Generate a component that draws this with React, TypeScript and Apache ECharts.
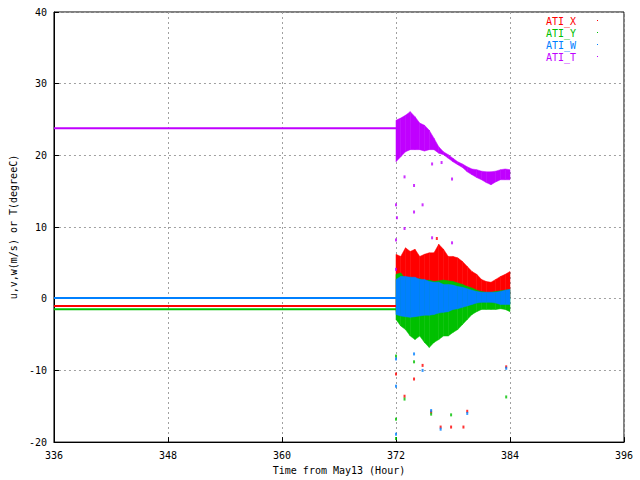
import React, { useEffect, useRef } from 'react';
import * as echarts from 'echarts';

// 时间轴 (hour from May13)
const bandTimes = [
  372.0, 372.5, 373.0, 373.5, 374.0, 374.5, 375.0, 375.5, 376.0, 376.5, 377.0, 377.5, 378.0,
  378.5, 379.0, 379.5, 380.0, 380.5, 381.0, 381.5, 382.0, 382.5, 383.0, 383.5, 384.0,
];

// ATI_X 上下包络
const xHigh = [6.2, 5.9, 7.1, 6.6, 6.9, 5.9, 6.2, 6.4, 6.4, 7.6, 6.9, 5.9, 5.9, 5.7, 5.2, 4.5, 3.8, 3.4, 2.7, 2.4, 2.3, 2.7, 3.1, 3.4, 3.8];
const xLow = [-1.8, -2.0, -2.2, -2.2, -2.0, -2.0, -1.8, -1.8, -1.6, -1.5, -1.2, -1.0, -0.8, -0.6, -0.4, -0.2, 0.0, 0.2, 0.3, 0.4, 0.4, 0.3, 0.2, 0.2, 0.1];
// ATI_Y
const yHigh = [3.4, 3.6, 2.8, 3.0, 2.6, 2.8, 2.5, 2.6, 2.4, 2.5, 2.6, 2.5, 2.4, 2.2, 2.0, 1.7, 1.5, 1.2, 1.0, 0.9, 0.9, 1.0, 1.1, 1.2, 1.3];
const yLow = [-2.9, -3.8, -4.3, -5.2, -5.7, -5.2, -6.1, -6.8, -6.1, -5.7, -5.2, -5.2, -4.7, -4.3, -3.6, -2.9, -2.2, -1.8, -1.5, -1.5, -1.5, -1.5, -1.4, -1.5, -1.8];
// ATI_W
const wHigh = [2.7, 3.1, 3.1, 3.0, 3.0, 2.7, 2.7, 2.4, 2.3, 2.3, 2.0, 2.0, 1.9, 1.7, 1.6, 1.4, 1.2, 1.0, 0.9, 0.9, 0.9, 0.9, 1.0, 1.2, 1.3];
const wLow = [-2.2, -2.4, -2.5, -2.6, -2.5, -2.4, -2.3, -2.3, -2.2, -2.0, -1.9, -1.8, -1.5, -1.4, -1.2, -1.0, -0.8, -0.6, -0.5, -0.5, -0.5, -0.6, -0.8, -0.8, -0.8];
// ATI_T
const tHigh = [24.9, 25.2, 25.6, 26.1, 25.4, 24.5, 24.2, 23.5, 22.4, 21.2, 20.5, 20.1, 19.6, 19.1, 18.8, 18.4, 18.1, 18.0, 17.8, 17.7, 17.7, 17.8, 18.0, 18.1, 18.0];
const tLow = [19.1, 19.8, 20.5, 20.8, 20.8, 20.8, 20.6, 20.8, 20.8, 20.3, 20.1, 19.6, 19.1, 18.7, 18.3, 17.7, 17.3, 16.9, 16.6, 16.2, 15.9, 16.3, 16.6, 16.6, 16.6];

// 372 以前的常值
const flatTimes = [336, 372];
const xFlat = [-1.0, -1.0];
const yFlat = [-1.45, -1.45];
const wFlat = [0.1, 0.1];
const tFlat = [23.8, 23.8];

// 离群点 [time, value]
const xOutliers = [[372.0, -10.5], [372.9, -13.6], [373.9, -11.2], [374.8, -9.3], [375.7, -15.8], [376.7, -17.9], [377.8, -17.9], [379.1, -17.9], [379.5, -15.7], [383.6, -9.5], [376.3, 8.4]];
const yOutliers = [[372.0, -8.0], [372.0, -16.8], [372.9, -14.0], [373.9, -8.8], [375.7, -16.1], [377.8, -16.2], [383.6, -13.7], [372.0, -19.5]];
const wOutliers = [[372.0, -8.4], [372.0, -12.2], [373.9, -7.7], [374.8, -10.0], [375.7, -15.6], [376.7, -18.2], [379.5, -16.0], [383.6, -9.7], [372.0, -18.9]];
const tOutliers = [[372.9, 17.0], [373.9, 15.8], [374.8, 13.1], [373.9, 12.1], [372.0, 13.1], [372.1, 11.3], [372.9, 9.8], [372.0, 8.2], [375.8, 18.8], [376.8, 19.0], [377.9, 16.7], [375.8, 8.5], [377.9, 7.8], [372.0, 4.1]];

const yTicks = [-20, -10, 0, 10, 20, 30, 40];
const xTicks = [336, 348, 360, 372, 384, 396];

const seriesDefs = [
  { name: 'ATI_X', color: '#ff0000', high: xHigh, low: xLow, flat: xFlat, out: xOutliers },
  { name: 'ATI_Y', color: '#00c000', high: yHigh, low: yLow, flat: yFlat, out: yOutliers },
  { name: 'ATI_W', color: '#0080ff', high: wHigh, low: wLow, flat: wFlat, out: wOutliers },
  { name: 'ATI_T', color: '#c000ff', high: tHigh, low: tLow, flat: tFlat, out: tOutliers },
];

const FONT = 'DejaVu Sans Mono';

const App: React.FC = () => {
  const chartRef = useRef<HTMLDivElement>(null);

  useEffect(() => {
    document.body.style.margin = '0';
    if (!chartRef.current) return;
    const chart = echarts.init(chartRef.current, null, { renderer: 'svg' });

    const series: any[] = [];
    seriesDefs.forEach((s) => {
      // 常值段
      series.push({
        name: s.name,
        type: 'line',
        data: flatTimes.map((t, i) => [t, s.flat[i]]),
        showSymbol: false,
        lineStyle: { color: s.color, width: 2 },
        itemStyle: { color: s.color },
        z: 2,
      });
      // 包络带
      const data = bandTimes.map((t, i) => [t, s.low[i], s.high[i]]);
      series.push({
        name: s.name,
        type: 'custom',
        data,
        encode: { x: 0, y: [1, 2] },
        itemStyle: { color: s.color },
        renderItem: (params: any, api: any) => {
          const i = params.dataIndex;
          if (i >= data.length - 1) return null;
          const a = data[i];
          const b = data[i + 1];
          const p1 = api.coord([a[0], a[2]]);
          const p2 = api.coord([b[0], b[2]]);
          const p3 = api.coord([b[0], b[1]]);
          const p4 = api.coord([a[0], a[1]]);
          return {
            type: 'polygon',
            shape: { points: [p1, p2, p3, p4] },
            style: { fill: s.color, stroke: s.color, lineWidth: 0.5 },
          };
        },
        z: 2,
      });
      // 离群点
      series.push({
        name: s.name,
        type: 'scatter',
        data: s.out,
        symbol: 'rect',
        symbolSize: [2, 3],
        itemStyle: { color: s.color },
        z: 2,
      });
    });

    const graphic: any[] = [];
    seriesDefs.forEach((s, i) => {
      graphic.push({
        type: 'text',
        right: 640 - 576,
        top: 16 + i * 12,
        style: { text: s.name, fill: s.color, font: `10px "${FONT}"`, textAlign: 'right' },
      });
      graphic.push({
        type: 'rect',
        left: 597,
        top: 20 + i * 12,
        shape: { width: 1, height: 1 },
        style: { fill: s.color },
      });
    });

    chart.setOption({
      animation: false,
      backgroundColor: '#ffffff',
      textStyle: { fontFamily: FONT },
      grid: {
        left: 48,
        top: 12,
        width: 576,
        height: 431,
        show: true,
        borderColor: '#000000',
        borderWidth: 1,
        backgroundColor: 'transparent',
      },
      xAxis: {
        type: 'value',
        min: 336,
        max: 396,
        interval: 12,
        name: 'Time from May13 (Hour)',
        nameLocation: 'middle',
        nameGap: 22,
        nameTextStyle: { color: '#000', fontSize: 10, fontFamily: FONT },
        axisLine: { show: true, onZero: false, lineStyle: { color: '#000' } },
        axisTick: { show: true, inside: true, length: 5, lineStyle: { color: '#000' } },
        axisLabel: { color: '#000', fontSize: 10, fontFamily: FONT, margin: 8 },
        splitLine: { show: true, lineStyle: { color: '#a0a0a0', type: [2, 3], width: 1 } },
      },
      yAxis: {
        type: 'value',
        min: yTicks[0],
        max: yTicks[yTicks.length - 1],
        interval: 10,
        name: 'u,v,w(m/s) or T(degreeC)',
        nameLocation: 'middle',
        nameRotate: 90,
        nameGap: 32,
        nameTextStyle: { color: '#000', fontSize: 10, fontFamily: FONT },
        axisLine: { show: true, onZero: false, lineStyle: { color: '#000' } },
        axisTick: { show: true, inside: true, length: 5, lineStyle: { color: '#000' } },
        axisLabel: { color: '#000', fontSize: 10, fontFamily: FONT, margin: 7 },
        splitLine: { show: true, lineStyle: { color: '#a0a0a0', type: [2, 3], width: 1 } },
      },
      graphic,
      series,
    });

    return () => {
      chart.dispose();
    };
  }, []);

  return <div ref={chartRef} style={{ width: '640px', height: '480px' }} data-xticks={xTicks.join(',')}></div>;
};

export default App;
